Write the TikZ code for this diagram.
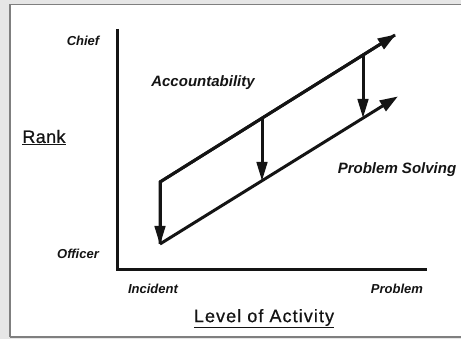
\documentclass[tikz,border=0pt]{standalone}
\usepackage{fontspec}
\setmainfont{Liberation Sans}
\usetikzlibrary{arrows.meta}
\definecolor{outergray}{HTML}{E6E6E6}
\definecolor{framegray}{HTML}{7F7F7F}
\definecolor{ink}{HTML}{141414}
\tikzset{
  lbl/.style={font=\fontsize{13}{15}\selectfont\bfseries\itshape, text=ink, inner sep=0pt},
  biglbl/.style={font=\fontsize{15}{18}\selectfont\bfseries\itshape, text=ink, inner sep=0pt},
  axlbl/.style={font=\fontsize{18}{21}\selectfont, text=ink, inner sep=0pt},
  axis/.style={line width=3pt, draw=ink},
  trend/.style={line width=3pt, draw=ink, -{Triangle[length=18pt,width=12pt]}, shorten >=-1pt},
  drop/.style={line width=3pt, draw=ink, -{Triangle[length=19pt,width=10.5pt]}}
}
\begin{document}
\begin{tikzpicture}[x=1pt,y=-1pt]
  \useasboundingbox (0,0) rectangle (461,339);
  \fill[outergray] (0,0) rectangle (461,339);
  \fill[white] (10,4.5) rectangle (461,337);
  \draw[framegray, line width=1.2pt] (10,337) -- (10,4.5) -- (461,4.5);
  \draw[framegray, line width=1.2pt] (10,337) -- (461,337);
  % axes
  \coordinate (ytop) at (117,29);
  \coordinate (origin) at (117,270);
  \coordinate (xend) at (427,270);
  \draw[axis] (ytop) -- (origin) -- (xend);
  % trend lines
  \coordinate (a1) at (160,182);
  \coordinate (a2) at (395,35);
  \coordinate (b1) at (160,244);
  \coordinate (b2) at (397,97);
  \coordinate (am) at (262,118.2);
  \coordinate (bm) at (262,181);
  \coordinate (ar) at (363,55);
  \coordinate (br) at (363,118);
  \draw[trend] (b1) -- (b2);
  \draw[drop] (am) -- (bm);
  \draw[drop] (ar) -- (br);
  \draw[line width=3pt, draw=ink, line join=miter] (a2) -- (a1) -- (b1);
  \draw[trend] (a1) -- (a2);
  \draw[drop] (a1) -- ([yshift=-1pt]b1);
  % labels
  \node[lbl] (chief) at (83,41) {Chief};
  \node[lbl] (officer) at (78,254) {Officer};
  \node[lbl] (incident) at (153,289) {Incident};
  \node[lbl] (problem) at (397,289) {Problem};
  \node[biglbl] (acc) at (203,83) {Accountability};
  \node[biglbl] (ps) at (397,170) {Problem Solving};
  \node[axlbl] (rank) at (44,137.5) {\addfontfeature{LetterSpace=2,FakeBold=0.6}\underline{Rank}};
  \node[axlbl] (loa) at (264,318.5) {\addfontfeature{LetterSpace=6,FakeBold=0.6}\underline{Level of Activity}};
\end{tikzpicture}
\end{document}
